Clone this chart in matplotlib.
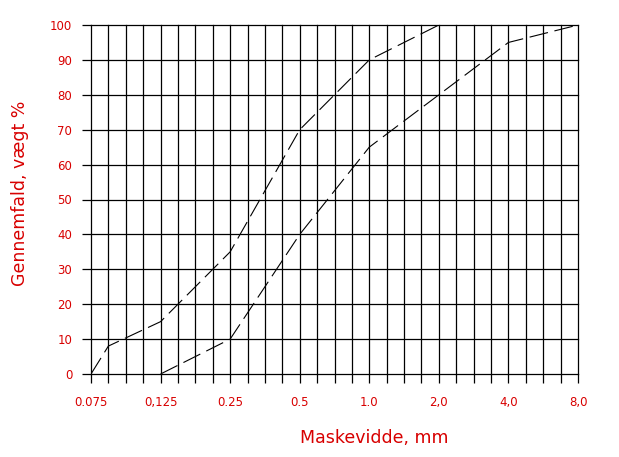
import matplotlib
matplotlib.use('Agg')
import matplotlib.pyplot as plt
import numpy as np

# Sigter (mm) og deres etiketter
sigter = [0.075, 0.125, 0.25, 0.5, 1.0, 2.0, 4.0, 8.0]
sigte_labels = ['0.075', '0,125', '0.25', '0.5', '1.0', '2,0', '4,0', '8,0']

# Graensekurver (mm, gennemfald %)
fin_x = [0.075, 0.0852, 0.125, 0.25, 0.5, 1.0, 2.0]
fin_y = [0, 8, 15, 35, 70, 90, 100]
grov_x = [0.125, 0.25, 0.5, 1.0, 2.0, 4.0, 8.0]
grov_y = [0, 10, 40, 65, 80, 95, 100]

y_ticks = list(range(0, 101, 10))

rod = '#d80000'
pos = np.arange(len(sigter))
logs = np.log(sigter)


def fwd(x):
    return np.interp(np.log(np.clip(x, 1e-6, None)), logs, pos)


def inv(p):
    return np.exp(np.interp(p, pos, logs))


fig = plt.figure(figsize=(6.19, 4.57), dpi=100)
W, H = 619, 457
ax = fig.add_axes([91 / W, (H - 374) / H, (578 - 91) / W, (374 - 25) / H])
ax.set_xscale('function', functions=(fwd, inv))
ax.set_xlim(sigter[0], sigter[-1])
ax.set_ylim(0, 100)

# gitter
minor = inv(np.arange(0, len(sigter) - 1 + 0.001, 0.25))
for xv in minor:
    ax.axvline(xv, color='black', lw=0.9, zorder=1, clip_on=False)
for yv in y_ticks:
    ax.axhline(yv, color='black', lw=0.9, zorder=1, clip_on=False)

ax.plot(fin_x, fin_y, color='black', lw=0.8, dashes=(17, 6), zorder=3)
ax.plot(grov_x, grov_y, color='black', lw=0.8, dashes=(17, 6), zorder=3)

ax.set_xticks(sigter)
ax.set_xticklabels(sigte_labels)
ax.set_xticks(minor, minor=True)
ax.set_yticks(y_ticks)
ax.tick_params(axis='both', which='both', direction='out', length=6.5, width=0.9,
               color='black', labelcolor=rod, labelsize=8.5)
ax.tick_params(axis='y', pad=7)
ax.tick_params(axis='x', pad=9)
for s in ax.spines.values():
    s.set_visible(False)

fig.text(300 / W, 1 - 438 / H, 'Maskevidde, mm', color=rod, fontsize=12.5,
         ha='left', va='center')
fig.text(20 / W, 1 - 193 / H, 'Gennemfald, vægt %', color=rod, fontsize=12.5,
         ha='center', va='center', rotation=90)

fig.savefig('out.png', dpi=100)
